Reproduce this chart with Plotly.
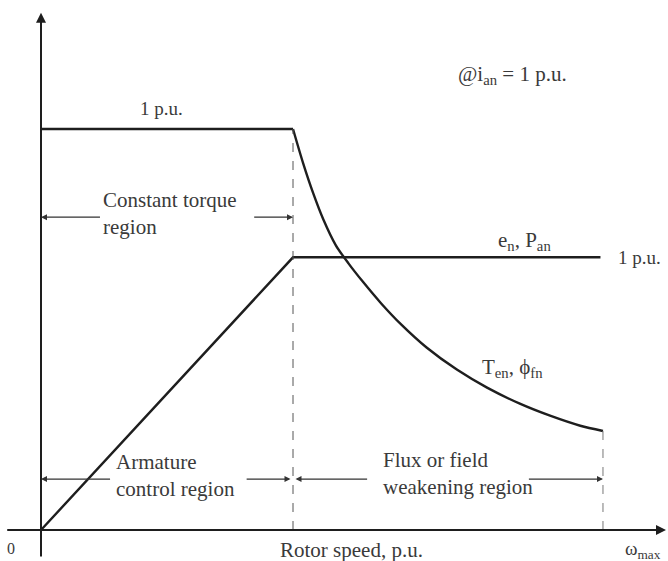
import plotly.graph_objects as go

# ---- data (per-unit drawing values) ----
base_speed = 1.0
max_speed = 2.23

torque_speed = [0.0, 1.0, 1.04, 1.08, 1.12, 1.17, 1.22, 1.28, 1.35, 1.43,
                1.53, 1.65, 1.77, 1.90, 2.02, 2.14, 2.23]
torque_vals = [1.0, 1.0, 0.915, 0.84, 0.775, 0.71, 0.665, 0.617, 0.565, 0.512,
               0.455, 0.40, 0.355, 0.315, 0.285, 0.26, 0.247]

power_speed = [0.0, 1.0, 2.22]
power_vals = [0.0, 0.68, 0.68]

ink = "#1e1e1e"
txt = "#3a3a3a"
font = dict(family="Liberation Serif, Times New Roman, serif", size=21, color=txt)

fig = go.Figure()
fig.add_trace(go.Scatter(x=torque_speed[:2], y=torque_vals[:2], mode="lines",
                         line=dict(color=ink, width=2.4), hoverinfo="skip"))
fig.add_trace(go.Scatter(x=torque_speed[1:], y=torque_vals[1:], mode="lines",
                         line=dict(color=ink, width=2.4, shape="spline", smoothing=0.8),
                         hoverinfo="skip"))
fig.add_trace(go.Scatter(x=power_speed, y=power_vals, mode="lines",
                         line=dict(color=ink, width=2.4), hoverinfo="skip"))

# dashed guides
fig.add_shape(type="line", x0=base_speed, x1=base_speed, y0=0, y1=1.0,
              line=dict(color="#555", width=1, dash="dash"))
fig.add_shape(type="line", x0=max_speed, x1=max_speed, y0=0, y1=torque_vals[-1],
              line=dict(color="#777", width=1, dash="dash"))

ann = []
def arrow(xh, yh, xt, yt, w=1.2, size=1.0, head=2, color="#333"):
    ann.append(dict(x=xh, y=yh, ax=xt, ay=yt, xref="x", yref="y", axref="x", ayref="y",
                    showarrow=True, arrowhead=head, arrowsize=size, arrowwidth=w,
                    arrowcolor=color, text=""))

# axes with arrowheads
arrow(0, 1.29, 0, -0.07, w=2, size=1.0, head=2, color=ink)
arrow(2.48, 0, -0.14, 0, w=2, size=1.0, head=2, color=ink)

# region arrows
yc = 0.78
arrow(0.0, yc, 0.24, yc)
arrow(1.0, yc, 0.84, yc)
ya = 0.127
arrow(0.0, ya, 0.28, ya)
arrow(0.99, ya, 0.81, ya)
arrow(1.01, ya, 1.30, ya)
arrow(max_speed, ya, 1.93, ya)

def label(x, y, text, xanchor="left", size=21):
    f = dict(font); f["size"] = size
    ann.append(dict(x=x, y=y, xref="x", yref="y", text=text, showarrow=False,
                    xanchor=xanchor, yanchor="middle", font=f, align="left"))

label(0.24, 0.79, "Constant torque<br>region")
label(0.29, 0.135, "Armature<br>control region")
label(1.35, 0.14, "Flux or field<br>weakening region")
label(0.48, 1.05, "1 p.u.", xanchor="center", size=19)
label(1.87, 1.135, "@i<sub>an</sub> = 1 p.u.", xanchor="center")
label(1.92, 0.72, "e<sub>n</sub>, P<sub>an</sub>", xanchor="center")
label(2.28, 0.68, "1 p.u.", size=19)
label(1.74, 0.405, "T<sub>en</sub>, ϕ<sub>fn</sub>")
label(-0.12, -0.045, "0", xanchor="center", size=16)
label(1.234, -0.05, "Rotor speed, p.u.", xanchor="center")
label(2.39, -0.05, "ω<sub>max</sub>", xanchor="center", size=19)

fig.update_layout(
    width=668, height=561, margin=dict(l=0, r=0, t=0, b=0),
    paper_bgcolor="white", plot_bgcolor="white", showlegend=False,
    xaxis=dict(range=[-0.1627, 2.488], visible=False, fixedrange=True),
    yaxis=dict(range=[-0.0773, 1.3217], visible=False, fixedrange=True),
    annotations=ann,
)
fig.write_html("out.html")
